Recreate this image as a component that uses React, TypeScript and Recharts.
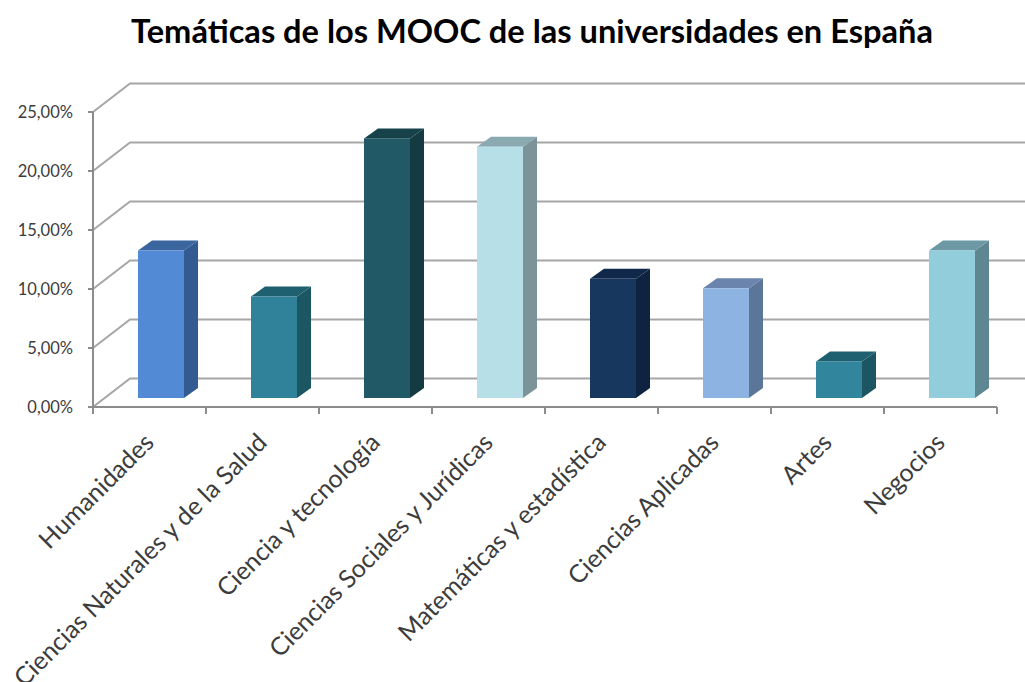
import React from "react";
import { BarChart, Bar, XAxis, YAxis, CartesianGrid } from "recharts";

const categories = [
  "Humanidades",
  "Ciencias Naturales y de la Salud",
  "Ciencia y tecnología",
  "Ciencias Sociales y Jurídicas",
  "Matemáticas y estadística",
  "Ciencias Aplicadas",
  "Artes",
  "Negocios",
];
const values = [12.5, 8.6, 22.0, 21.3, 10.1, 9.3, 3.1, 12.5];
const frontColors = ["#538ad6", "#2f8299", "#215966", "#b7dfe8", "#17375e", "#8db3e2", "#31859c", "#92cddc"];
const sideColors = ["#345a92", "#1d5663", "#143a42", "#7a949a", "#0e2340", "#5c7699", "#1d5663", "#5f8791"];
const topColors = ["#3a659f", "#1f6070", "#174249", "#8aa9b0", "#10294a", "#6a84ad", "#1f6070", "#6d99a5"];
const yTicks = [0, 5, 10, 15, 20, 25];

const data = categories.map((name, i) => ({ name, value: values[i] }));

const TEXT = "#3c3c3c";
const AXIS = "#8c8c8c";
const FONT = "Lato, 'Open Sans', sans-serif";
const BAND = 113;

const Bar3D = (props: any) => {
  const { x, y, width, height, index } = props;
  // bars stand inside the floor, so shift them off the front axis
  const left = x + 11;
  const top = y - 9;
  const right = left + width;
  const bottom = top + height;
  const dx = 14;
  const dy = -10;
  return (
    <g>
      <polygon
        points={`${right},${top} ${right + dx},${top + dy} ${right + dx},${bottom + dy} ${right},${bottom}`}
        fill={sideColors[index]}
      />
      <polygon
        points={`${left},${top} ${left + dx},${top + dy} ${right + dx},${top + dy} ${right},${top}`}
        fill={topColors[index]}
      />
      <rect x={left} y={top} width={width} height={height} fill={frontColors[index]} />
    </g>
  );
};

const WallLine = (props: any) => {
  const { x1, y1, x2, index } = props;
  const dx = 37;
  const dy = -28.5;
  return (
    <path
      key={index}
      d={`M${x1},${y1} L${x1 + dx},${y1 + dy} L${x2 + dx},${y1 + dy}`}
      fill="none"
      stroke="#a6a6a6"
      strokeWidth={2}
    />
  );
};

// tick marks sit between categories, labels are rotated under the centre
const AngledTick = (props: any) => {
  const { x, y, payload, index } = props;
  const ax = x + 6;
  const ay = y + 29;
  return (
    <g>
      {index === 0 && <line x1={x - BAND / 2} x2={x - BAND / 2} y1={407} y2={414} stroke={AXIS} strokeWidth={2} />}
      <line x1={x + BAND / 2} x2={x + BAND / 2} y1={407} y2={414} stroke={AXIS} strokeWidth={2} />
      <text
        x={ax}
        y={ay}
        textAnchor="end"
        fontFamily={FONT}
        fontSize={25}
        fill={TEXT}
        transform={`rotate(-45 ${ax} ${ay})`}
      >
        {payload.value}
      </text>
    </g>
  );
};

const App = () => {
  return (
    <div style={{ position: "absolute", left: 0, top: 0, width: 1025, height: 682, background: "#fff", overflow: "hidden" }}>
      <BarChart
        width={1025}
        height={682}
        data={data}
        margin={{ top: 112, right: 28, bottom: 0, left: 0 }}
      >
        <CartesianGrid vertical={false} horizontal={WallLine} />
        <XAxis
          dataKey="name"
          height={275}
          interval={0}
          tick={AngledTick}
          tickLine={false}
          axisLine={{ stroke: AXIS, strokeWidth: 2 }}
        />
        <YAxis
          width={93}
          domain={[0, 25]}
          ticks={yTicks}
          tickSize={5}
          tickMargin={15}
          tickFormatter={(v: number) => `${v.toFixed(2).replace(".", ",")}%`}
          tick={{ fontFamily: FONT, fontSize: 16.5, fill: TEXT }}
          axisLine={{ stroke: AXIS, strokeWidth: 2 }}
          tickLine={{ stroke: AXIS, strokeWidth: 2 }}
        />
        <Bar dataKey="value" barSize={46} shape={Bar3D} isAnimationActive={false} />
        <text x={532} y={43} textAnchor="middle" fontFamily={FONT} fontWeight={700} fontSize={32.6} fill="#000">
          Temáticas de los MOOC de las universidades en España
        </text>
      </BarChart>
    </div>
  );
};

export default App;
